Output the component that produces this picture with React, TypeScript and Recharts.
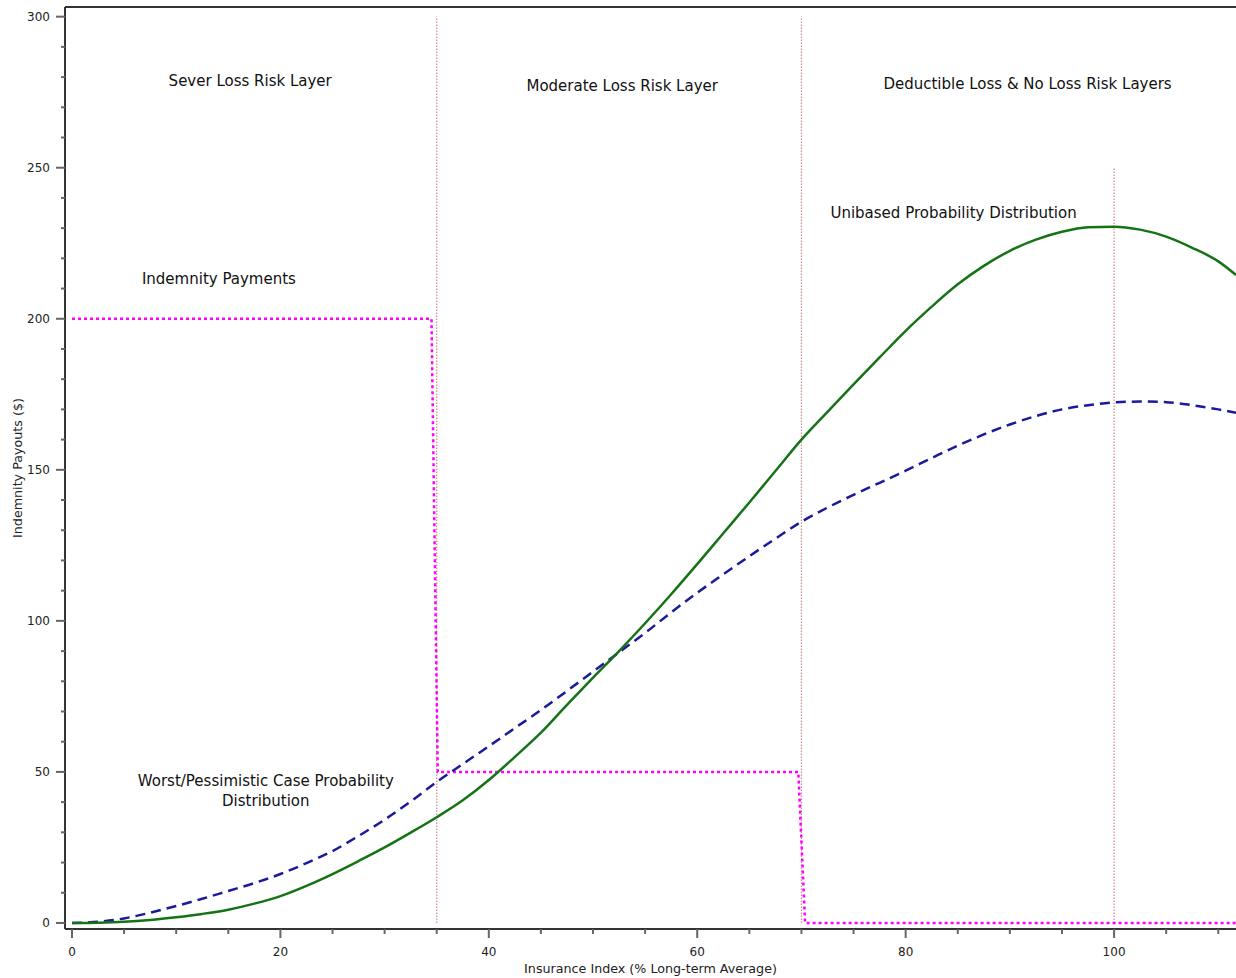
import React from 'react';
import {
  LineChart, Line, XAxis, YAxis, ReferenceLine, ReferenceDot,
} from 'recharts';

// x positions (Insurance Index, % long-term average)
const xIndex = [
  0, 2.5, 5, 7.5, 10, 12.5, 15, 17.5, 20, 22.5, 25, 27.5, 30, 32.5, 35, 37.5, 40, 42.5, 45,
  47.5, 50, 52.5, 55, 57.5, 60, 62.5, 65, 67.5, 70, 72.5, 75, 77.5, 80, 82.5, 85, 87.5, 90,
  92.5, 95, 97.5, 100, 102.5, 105, 107.5, 110, 111.7,
];

// green solid - unbiased probability distribution
const unbiased = [
  0, 0.1, 0.4, 1.0, 1.9, 3.0, 4.4, 6.4, 8.9, 12.3, 16.2, 20.5, 25, 29.9, 35, 40.6, 47.3, 55, 63,
  72.2, 81.2, 90, 99.2, 108.8, 118.8, 129, 139.2, 149.6, 160, 169.2, 178.3, 187.2, 196, 204, 211.4, 217.5, 222.5,
  226.2, 228.8, 230.3, 230.5, 229.5, 227.2, 223.5, 219, 214.5,
];

// blue dashed - worst / pessimistic case distribution
const pessimistic = [
  0, 0.4, 1.5, 3.4, 5.6, 8.0, 10.6, 13.2, 16.2, 19.8, 23.8, 28.8, 34.2, 40.2, 46.7, 52.6, 58.5, 64.5, 70.5,
  76.8, 83.2, 89.6, 96, 102.8, 109.3, 115.4, 121.4, 127.2, 132.8, 137.5, 141.7, 145.7, 149.7, 153.9, 158.0, 161.7, 165,
  167.8, 170, 171.4, 172.3, 172.6, 172.4, 171.4, 170, 168.9,
];

// magenta dotted - indemnity payments (step)
const payX = [0, 34.5, 35.1, 69.7, 70.35, 111.7];
const payY = [200, 200, 50, 50, 0, 0];

// vertical layer boundaries
const layerX = [35, 70, 100];
const layerTop = [300, 300, 250];

const yTicks = Array.from({ length: 31 }, (_, i) => i * 10);
const xTicks = Array.from({ length: 23 }, (_, i) => i * 5);

const notes = [
  { x: 17.1, y: 278.7, text: 'Sever Loss Risk Layer' },
  { x: 52.8, y: 277.1, text: 'Moderate Loss Risk Layer' },
  { x: 91.7, y: 277.7, text: 'Deductible Loss & No Loss Risk Layers' },
  { x: 84.6, y: 235.0, text: 'Unibased Probability Distribution' },
  { x: 14.1, y: 213.2, text: 'Indemnity Payments' },
  { x: 18.6, y: 47.0, text: 'Worst/Pessimistic Case Probability' },
  { x: 18.6, y: 40.4, text: 'Distribution' },
];

const FONT = '"DejaVu Sans", Verdana, sans-serif';
const Y_DOMAIN = [-2, 303.2];
const X_DOMAIN = [-0.67, 111.7];

const greenData = xIndex.map((x, i) => ({ x, y: unbiased[i] }));
const blueData = xIndex.map((x, i) => ({ x, y: pessimistic[i] }));
const payData = payX.map((x, i) => ({ x, y: payY[i] }));

function YTick({ x, y, payload }: any) {
  const major = payload.value % 50 === 0;
  return (
    <g>
      <line x1={x - (major ? 9 : 4)} x2={x} y1={y} y2={y} stroke="#666" strokeWidth={2} />
      {major && (
        <text x={x - 15} y={y} textAnchor="end" dominantBaseline="central" fontSize={12} fill="#222" fontFamily={FONT}>
          {payload.value}
        </text>
      )}
    </g>
  );
}

function XTick({ x, y, payload }: any) {
  const major = payload.value % 20 === 0;
  return (
    <g>
      <line x1={x} x2={x} y1={y} y2={y + (major ? 9 : 5)} stroke="#666" strokeWidth={2} />
      {major && (
        <text x={x} y={y + 23} textAnchor="middle" dominantBaseline="central" fontSize={12} fill="#222" fontFamily={FONT}>
          {payload.value}
        </text>
      )}
    </g>
  );
}

function Note({ viewBox, value }: any) {
  const cx = viewBox.x + viewBox.width / 2;
  const cy = viewBox.y + viewBox.height / 2;
  return (
    <text x={cx} y={cy} textAnchor="middle" dominantBaseline="central" fontSize={15} fill="#111" fontFamily={FONT}>
      {value}
    </text>
  );
}

export default function App() {
  return (
    <div style={{ position: 'absolute', left: 0, top: 0, width: 1236, height: 978, background: '#fff', fontFamily: FONT }}>
      <LineChart width={1236} height={978} margin={{ top: 7, right: 0, left: 0, bottom: 9 }}>
        <XAxis
          type="number" dataKey="x" domain={X_DOMAIN} allowDataOverflow
          ticks={xTicks} interval={0} tickSize={0} tickMargin={0} tickLine={false}
          tick={<XTick />} height={40}
          axisLine={{ stroke: '#333', strokeWidth: 2 }}
          label={{ value: 'Insurance Index (% Long-term Average)', position: 'insideBottom', offset: -4, fontSize: 12.7, fill: '#222', fontFamily: FONT }}
        />
        <YAxis
          type="number" domain={Y_DOMAIN} allowDataOverflow
          ticks={yTicks} interval={0} tickSize={0} tickMargin={0} tickLine={false}
          tick={<YTick />} width={65}
          axisLine={{ stroke: '#333', strokeWidth: 2 }}
          label={{ value: 'Indemnity Payouts ($)', angle: -90, position: 'insideLeft', offset: 17, fontSize: 12.7, fill: '#222', fontFamily: FONT, style: { textAnchor: 'middle' } }}
        />
        <ReferenceLine y={Y_DOMAIN[1]} stroke="#333" strokeWidth={2} ifOverflow="visible" />
        {layerX.map((lx, i) => (
          <ReferenceLine
            key={lx}
            segment={[{ x: lx, y: 0 }, { x: lx, y: layerTop[i] }]}
            stroke="#d08a8a" strokeWidth={1.2} strokeDasharray="1.5 1.5"
          />
        ))}
        <Line data={payData} dataKey="y" type="linear" stroke="#ff00ff" strokeWidth={2.5}
          strokeDasharray="3 3" dot={false} isAnimationActive={false} />
        <Line data={blueData} dataKey="y" type="monotone" stroke="#1a1a9a" strokeWidth={2.5}
          strokeDasharray="10 6" dot={false} isAnimationActive={false} />
        <Line data={greenData} dataKey="y" type="monotone" stroke="#157315" strokeWidth={2.5}
          dot={false} isAnimationActive={false} />
        {notes.map((n) => (
          <ReferenceDot key={n.text} x={n.x} y={n.y} r={0} fill="none" stroke="none"
            label={<Note value={n.text} />} />
        ))}
      </LineChart>
    </div>
  );
}
